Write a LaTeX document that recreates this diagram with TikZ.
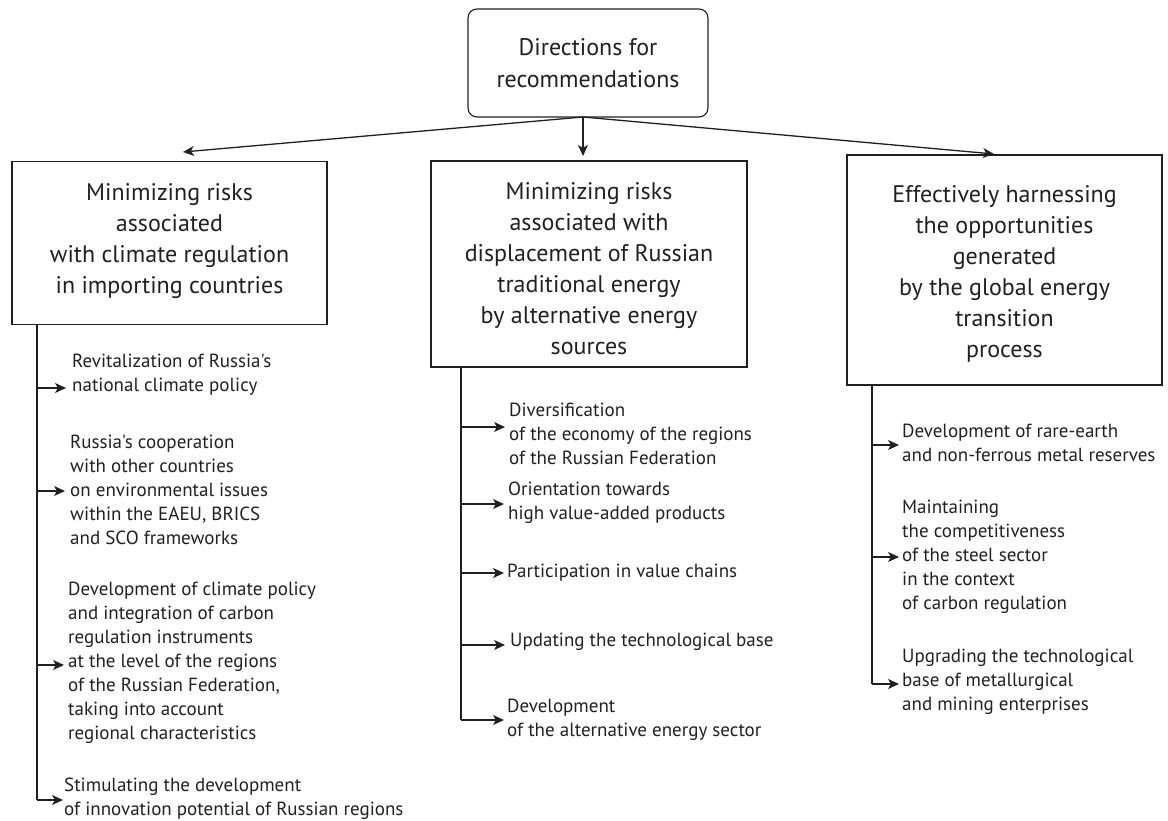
\documentclass[tikz,border=0pt]{standalone}
\usepackage{fontspec}
\setmainfont{PT Sans}[Ligatures=TeXOff]
\usetikzlibrary{arrows.meta}
\definecolor{ink}{HTML}{231F20}
\tikzset{
  headbox/.style={draw=ink, line width=1.1pt, rounded corners=9pt, align=center,
    text=ink, inner sep=0pt, font=\fontsize{24}{32}\selectfont},
  groupbox/.style={draw=ink, line width=1.1pt, inner sep=0pt},
  boxtext/.style={align=center, text=ink, inner sep=0pt,
    font=\fontsize{24}{31}\selectfont},
  itemtext/.style={anchor=west, align=left, text=ink, inner sep=0pt,
    font=\fontsize{19}{24}\selectfont},
  link/.style={draw=ink, line width=1.3pt},
  arr/.style={link, -{Stealth[length=11pt,width=10pt,inset=3pt]}}
}
\begin{document}
\begin{tikzpicture}[x=1pt, y=-1pt]
\useasboundingbox (0,0) rectangle (1168,821);

% head
\node[headbox, minimum width=240pt, minimum height=108pt] (top) at (588,63)
  {Directions for\\recommendations};

% three direction boxes and their titles
\node[groupbox, minimum width=315pt, minimum height=163pt] (b1) at (169.5,243) {};
\node[boxtext] (b1t) at (169.5,241.5) 
  {Minimizing risks\\associated\\with climate regulation\\in importing countries};
\node[groupbox, minimum width=316pt, minimum height=206pt] (b2) at (589,264) {};
\node[boxtext] (b2t) at (589,269)
  {Minimizing risks\\associated with\\displacement of Russian\\traditional energy\\by alternative energy\\sources};
\node[groupbox, minimum width=315pt, minimum height=230pt] (b3) at (1004.5,270) {};
\node[boxtext] (b3t) at (1004.5,273.5)
  {Effectively harnessing\\the opportunities\\generated\\by the global energy\\transition\\process};

% arrows from the head
\coordinate (hub) at (583,117);
\coordinate (e1) at (183,152);
\coordinate (e2) at (583,156);
\coordinate (e3) at (994,154);
\draw[arr] (hub) -- (e1);
\draw[arr] (hub) -- (e2);
\draw[arr] (hub) -- (e3);

% left column
\node[itemtext] (i1) at (72,375) {Revitalization of Russia's\\national climate policy};
\node[itemtext] (i2) at (70,490) {Russia's cooperation\\with other countries\\on environmental issues\\within the EAEU, BRICS\\and SCO frameworks};
\node[itemtext] (i3) at (68,663) {Development of climate policy\\and integration of carbon\\regulation instruments\\at the level of the regions\\of the Russian Federation,\\taking into account\\regional characteristics};
\node[itemtext] (i4) at (64,798.5) {Stimulating the development\\of innovation potential of Russian regions};

\coordinate (l0) at (37,325);
\coordinate (l1) at (37,388);
\coordinate (l2) at (37,491);
\coordinate (l3) at (37,665);
\coordinate (l4) at (37,800);
\draw[link] (l0) -- (l4);
\draw[arr, shorten >=6pt] (l1) -- (l1 -| i1.west);
\draw[arr, shorten >=5pt] (l2) -- (l2 -| i2.west);
\draw[arr, shorten >=4pt] (l3) -- (l3 -| i3.west);
\draw[arr, shorten >=1pt] (l4) -- (l4 -| i4.west);

% middle column
\node[itemtext] (m1) at (509,434) {Diversification\\of the economy of the regions\\of the Russian Federation};
\node[itemtext] (m2) at (508,503) {Orientation towards\\high value-added products};
\node[itemtext] (m3) at (507,573) {Participation in value chains};
\node[itemtext] (m4) at (510,642) {Updating the technological base};
\node[itemtext] (m5) at (507,719.5) {Development\\of the alternative energy sector};

\coordinate (c0) at (461,367);
\coordinate (c1) at (461,427);
\coordinate (c2) at (461,504);
\coordinate (c3) at (461,573);
\coordinate (c4) at (461,645);
\coordinate (c5) at (461,720);
\draw[link] (c0) -- (c5);
\draw[arr, shorten >=4pt] (c1) -- (c1 -| m1.west);
\draw[arr, shorten >=4pt] (c2) -- (c2 -| m2.west);
\draw[arr, shorten >=3pt] (c3) -- (c3 -| m3.west);
\draw[arr, shorten >=5pt] (c4) -- (c4 -| m4.west);
\draw[arr, shorten >=3pt] (c5) -- (c5 -| m5.west);

% right column
\node[itemtext] (r1) at (902,443) {Development of rare-earth\\and non-ferrous metal reserves};
\node[itemtext] (r2) at (902,557) {Maintaining\\the competitiveness\\of the steel sector\\in the context\\of carbon regulation};
\node[itemtext] (r3) at (902,682) {Upgrading the technological\\base of metallurgical\\and mining enterprises};

\coordinate (k0) at (872,385);
\coordinate (k1) at (872,445);
\coordinate (k2) at (872,557);
\coordinate (k3) at (872,684);
\draw[link] (k0) -- (k3);
\draw[arr, shorten >=3pt] (k1) -- (k1 -| r1.west);
\draw[arr, shorten >=3pt] (k2) -- (k2 -| r2.west);
\draw[arr, shorten >=3pt] (k3) -- (k3 -| r3.west);
\end{tikzpicture}
\end{document}
